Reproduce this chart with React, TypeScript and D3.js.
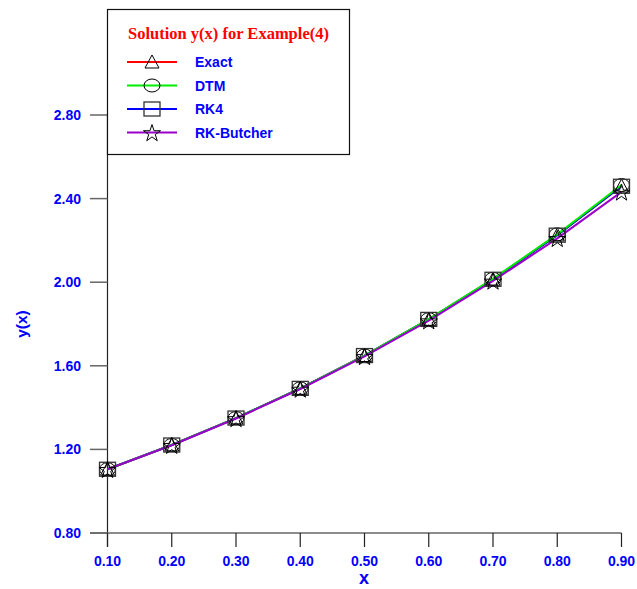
import React from "react";
import * as d3 from "d3";

const xs = [0.1, 0.2, 0.3, 0.4, 0.5, 0.6, 0.7, 0.8, 0.9];
const exact = [1.105, 1.221, 1.35, 1.492, 1.649, 1.822, 2.014, 2.226, 2.46];
const dtm = [1.105, 1.221, 1.35, 1.492, 1.649, 1.823, 2.016, 2.229, 2.465];
const rk4 = [1.105, 1.221, 1.35, 1.492, 1.649, 1.822, 2.014, 2.225, 2.459];
const rkButcher = [1.105, 1.22, 1.348, 1.489, 1.645, 1.816, 2.006, 2.21, 2.432];
const xTicks = [0.1, 0.2, 0.3, 0.4, 0.5, 0.6, 0.7, 0.8, 0.9];
const yTicks = [0.8, 1.2, 1.6, 2.0, 2.4, 2.8];
const seriesNames = ["Exact", "DTM", "RK4", "RK-Butcher"];
const seriesColors = ["#ff0000", "#00ee00", "#0000ff", "#9900cc"];
const seriesMarkers = ["triangle", "circle", "square", "star"];

function Marker({ type, cx, cy }: { type: string; cx: number; cy: number }) {
  const st = { fill: "none", stroke: "#000", strokeWidth: 1 };
  if (type === "triangle") {
    const p = `M${cx},${cy - 7}L${cx + 7},${cy + 6}L${cx - 7},${cy + 6}Z`;
    return <path d={p} {...st} />;
  }
  if (type === "circle") return <ellipse cx={cx} cy={cy} rx={8} ry={6.5} {...st} />;
  if (type === "square") return <rect x={cx - 8} y={cy - 7} width={16} height={14} {...st} stroke="#333" strokeWidth={1.3} />;
  const star = d3.symbol().type(d3.symbolStar).size(90)();
  return <path d={star || ""} transform={`translate(${cx},${cy + 1})`} {...st} />;
}

export default function App() {
  const x = d3.scaleLinear().domain([0.1, 0.9]).range([107.5, 621.5]);
  const y = d3.scaleLinear().domain([0.8, 2.8]).range([533, 115]);
  const line = d3
    .line<number>()
    .x((_, i) => x(xs[i]))
    .y((d) => y(d));
  const data = [exact, dtm, rk4, rkButcher];
  const drawOrder = [0, 2, 1, 3];
  const blue = "#0000ff";
  const axisColor = "#666";
  const sans = "Liberation Sans, Arial, sans-serif";
  return (
    <svg width={637} height={589} style={{ position: "absolute", left: 0, top: 0, background: "#fff" }}>
      <rect x={0} y={0} width={637} height={589} fill="#fff" />
      {/* axes */}
      <line x1={107.5} x2={107.5} y1={547} y2={115} stroke="#222" strokeWidth={1.2} />
      <line x1={90} x2={621.5} y1={533} y2={533} stroke={axisColor} strokeWidth={1.5} />
      {yTicks.map((t) => (
        <g key={t}>
          <line x1={90} x2={107.5} y1={y(t)} y2={y(t)} stroke={axisColor} strokeWidth={1.5} />
          <text x={81} y={y(t)} dy="0.36em" textAnchor="end" fill={blue} fontFamily={sans} fontWeight="bold" fontSize={14}>
            {t.toFixed(2)}
          </text>
        </g>
      ))}
      {xTicks.map((t) => (
        <g key={t}>
          <line x1={x(t)} x2={x(t)} y1={533} y2={547} stroke="#222" strokeWidth={1.2} />
          <text x={x(t)} y={566} textAnchor="middle" fill={blue} fontFamily={sans} fontWeight="bold" fontSize={14}>
            {t.toFixed(2)}
          </text>
        </g>
      ))}
      <text x={364} y={584} textAnchor="middle" fill={blue} fontFamily={sans} fontWeight="bold" fontSize={18}>
        x
      </text>
      <text transform="translate(26.5,324) rotate(-90)" textAnchor="middle" fill={blue} fontFamily={sans} fontWeight="bold" fontSize={15.5}>
        y(x)
      </text>
      {/* lines */}
      {drawOrder.map((si) => (
        <path key={si} d={line(data[si]) || ""} fill="none" stroke={seriesColors[si]} strokeWidth={2} />
      ))}
      {/* markers */}
      {data.map((s, si) =>
        s.map((v, i) => <Marker key={`${si}-${i}`} type={seriesMarkers[si]} cx={x(xs[i])} cy={y(v)} />)
      )}
      {/* legend */}
      <rect x={107.5} y={9.5} width={242} height={145} fill="#fff" stroke="#111" strokeWidth={1.2} />
      <text
        x={228.5}
        y={39}
        textAnchor="middle"
        fill="#ff0000"
        fontFamily="Liberation Serif, Times New Roman, serif"
        fontWeight="bold"
        fontSize={16.5}
      >
        Solution y(x) for Example(4)
      </text>
      {seriesNames.map((n, i) => {
        const ly = 62 + i * 23.5;
        return (
          <g key={n}>
            <line x1={127} x2={177} y1={ly} y2={ly} stroke={seriesColors[i]} strokeWidth={2} />
            <Marker type={seriesMarkers[i]} cx={152} cy={ly} />
            <text x={195} y={ly} dy="0.36em" fill={blue} fontFamily={sans} fontWeight="bold" fontSize={14}>
              {n}
            </text>
          </g>
        );
      })}
    </svg>
  );
}
